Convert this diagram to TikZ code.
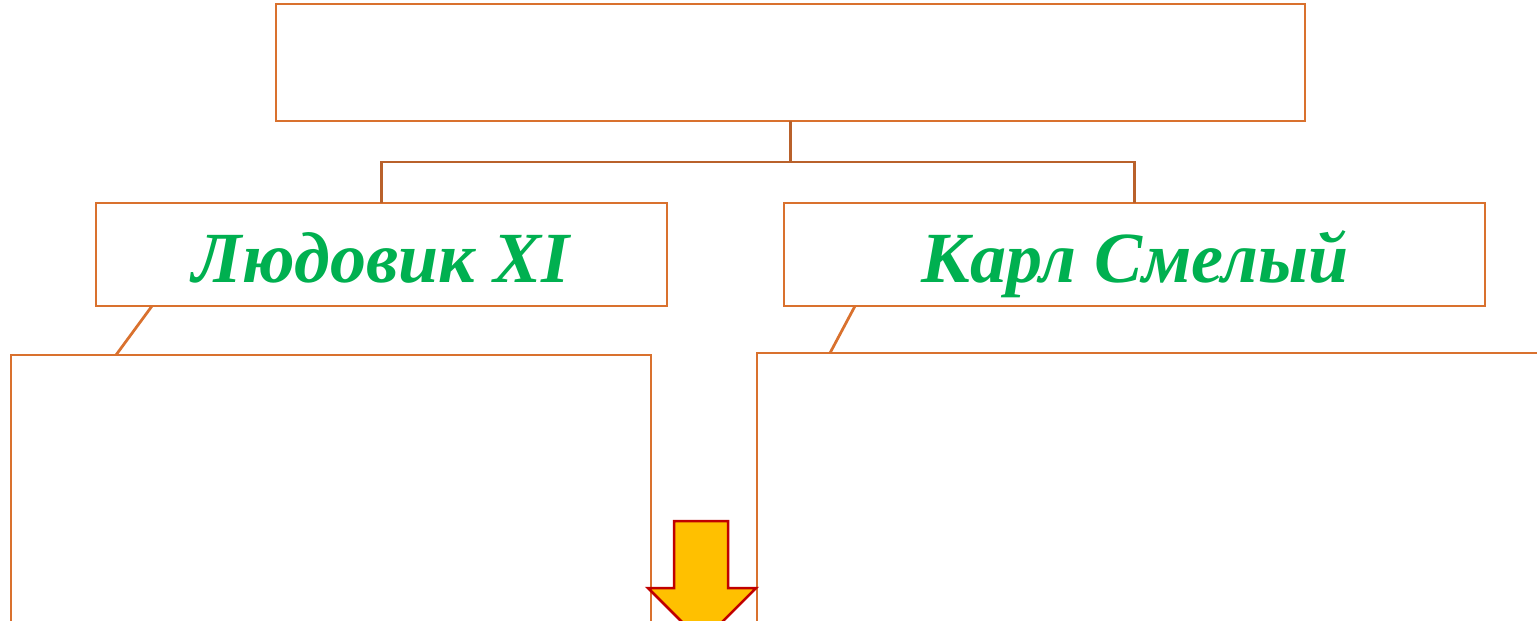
\documentclass[tikz,border=0pt]{standalone}
\usepackage{fontspec}
\setmainfont{Liberation Serif}
\begin{document}
\begin{tikzpicture}[x=0.02cm,y=-0.02cm,
  box/.style={draw=boxorange,line width=0.055cm,fill=white,inner sep=0pt,outer sep=0pt},
  conn/.style={draw=connbrown,line width=0.055cm},
  lbl/.style={text=labgreen,anchor=base,font=\fontsize{41}{48}\selectfont\bfseries\itshape}]
\definecolor{boxorange}{HTML}{D9712E}
\definecolor{connbrown}{HTML}{B9612B}
\definecolor{labgreen}{HTML}{00B050}
\definecolor{arrfill}{HTML}{FFC000}
\definecolor{arrline}{HTML}{C00000}
\useasboundingbox (0,0) rectangle (1537,620);
\clip (0,0) rectangle (1537,620);
\node[box,minimum width=1029*0.02cm,minimum height=117*0.02cm] (top) at (790.5,62.5) {};
\node[box,minimum width=571*0.02cm,minimum height=103*0.02cm] (ludo) at (381.5,254.5) {};
\node[box,minimum width=701*0.02cm,minimum height=103*0.02cm] (karl) at (1134.5,254.5) {};
\node[lbl] (ludotxt) at (381,282) {Людовик XI};
\node[lbl] (karltxt) at (1135,282) {Карл Смелый};
\node[box,minimum width=640*0.02cm,minimum height=400*0.02cm,anchor=north west] (lbox) at (11,355) {};
\node[box,minimum width=900*0.02cm,minimum height=400*0.02cm,anchor=north west] (rbox) at (757,353) {};
\coordinate (bus) at (top.south |- 0,162);
\draw[conn] (top.south) -- (bus);
\draw[conn] (ludo.north) -- (ludo.north |- bus) -- (karl.north |- bus) -- (karl.north);
\draw[box] (152,306) -- (116,355);
\draw[box] (855,306) -- (830,353);
\draw[draw=arrline,fill=arrfill,line width=0.05cm,line join=miter]
  (674,521) -- (728,521) -- (728,588) -- (756,588) -- (702,642) -- (648,588) -- (674,588) -- cycle;
\end{tikzpicture}
\end{document}
